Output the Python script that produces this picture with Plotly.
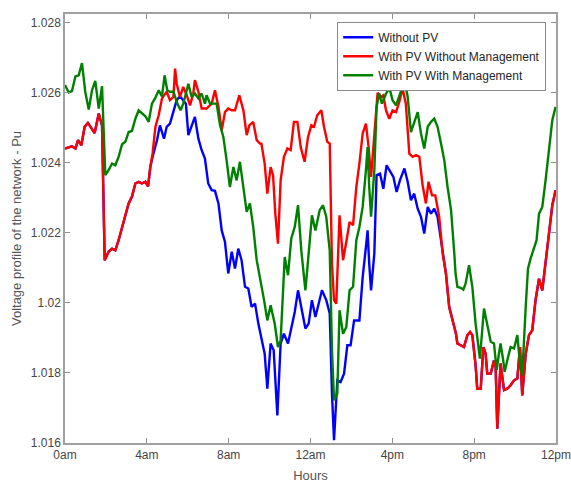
import plotly.graph_objects as go

# ---------------- data ----------------
x_tick_vals = [0, 4, 8, 12, 16, 20, 24]
x_tick_text = ["0am", "4am", "8am", "12am", "4pm", "8pm", "12pm"]
y_tick_vals = [1.016, 1.018, 1.020, 1.022, 1.024, 1.026, 1.028]
y_tick_text = ["1.016", "1.018", "1.02", "1.022", "1.024", "1.026", "1.028"]

hours_red = [0.00, 0.18, 0.34, 0.51, 0.64, 0.80, 0.96, 1.12, 1.29, 1.45, 1.65, 1.81, 1.94,
             2.13, 2.30, 2.46, 2.62, 2.79, 2.95, 3.11, 3.27, 3.44, 3.60, 3.76, 3.93, 4.06,
             4.17, 4.28, 4.42, 4.58, 4.74, 4.97, 5.13, 5.30, 5.38, 5.46, 5.62, 5.78, 5.95,
             6.11, 6.27, 6.35, 6.52, 6.68, 6.92, 7.17, 7.33, 7.50, 7.66, 7.82, 7.98, 8.15,
             8.31, 8.52, 8.72, 8.88, 9.01, 9.20, 9.37, 9.53, 9.60, 9.76, 9.89, 10.05, 10.17,
             10.28, 10.41, 10.54, 10.70, 10.87, 11.03, 11.19, 11.36, 11.52, 11.71, 11.88,
             12.04, 12.17, 12.33, 12.53, 12.66, 12.82, 12.94, 13.05, 13.15, 13.26, 13.42,
             13.59, 13.75, 13.91, 14.08, 14.24, 14.39, 14.55, 14.71, 14.84, 14.96, 15.12,
             15.28, 15.44, 15.56, 15.69, 15.85, 16.01, 16.18, 16.34, 16.50, 16.66, 16.83,
             16.99, 17.16, 17.32, 17.48, 17.64, 17.77, 17.94, 18.10, 18.29, 18.46, 18.62,
             18.78, 18.95, 19.11, 19.18, 19.34, 19.50, 19.67, 19.80, 19.91, 20.07, 20.15,
             20.32, 20.45, 20.56, 20.64, 20.81, 20.97, 21.05, 21.13, 21.29, 21.46, 21.62,
             21.78, 21.95, 22.11, 22.24, 22.35, 22.52, 22.68, 22.84, 23.00, 23.17, 23.33,
             23.49, 23.66, 23.82, 23.98]
volt_red = [1.02441, 1.02444, 1.02447, 1.02441, 1.02465, 1.02450, 1.02503, 1.02514, 1.02498,
            1.02485, 1.02541, 1.02507, 1.02122, 1.02146, 1.02155, 1.02150, 1.02179, 1.02217,
            1.02250, 1.02284, 1.02303, 1.02341, 1.02346, 1.02341, 1.02346, 1.02333, 1.02388,
            1.02426, 1.02503, 1.02536, 1.02584, 1.02603, 1.02579, 1.02588, 1.02669, 1.02626,
            1.02588, 1.02617, 1.02593, 1.02564, 1.02598, 1.02636, 1.02603, 1.02555, 1.02555,
            1.02569, 1.02607, 1.02560, 1.02493, 1.02545, 1.02555, 1.02550, 1.02550, 1.02593,
            1.02550, 1.02479, 1.02507, 1.02517, 1.02465, 1.02455, 1.02455, 1.02398, 1.02312,
            1.02388, 1.02365, 1.02255, 1.02169, 1.02350, 1.02417, 1.02441, 1.02436, 1.02517,
            1.02517, 1.02445, 1.02403, 1.02474, 1.02507, 1.02503, 1.02536, 1.02550, 1.02503,
            1.02460, 1.02455, 1.02112, 1.02008, 1.01998, 1.02250, 1.02122, 1.02174, 1.02231,
            1.02222, 1.02331, 1.02398, 1.02484, 1.02512, 1.02445, 1.02360, 1.02474, 1.02600,
            1.02588, 1.02593, 1.02550, 1.02526, 1.02550, 1.02545, 1.02574, 1.02612, 1.02569,
            1.02426, 1.02417, 1.02422, 1.02417, 1.02336, 1.02284, 1.02346, 1.02307, 1.02307,
            1.02246, 1.02141, 1.02084, 1.01988, 1.01950, 1.01912, 1.01884, 1.01879, 1.01874,
            1.01908, 1.01917, 1.01908, 1.01822, 1.01755, 1.01755, 1.01874, 1.01855, 1.01798,
            1.01798, 1.01836, 1.01817, 1.01641, 1.01827, 1.01751, 1.01755, 1.01765, 1.01779,
            1.01784, 1.01874, 1.01736, 1.01855, 1.01908, 1.01922, 1.02008, 1.02069, 1.02036,
            1.02112, 1.02198, 1.02279, 1.02322]

hours_green = [0.00, 0.18, 0.34, 0.51, 0.67, 0.83, 0.99, 1.16, 1.32, 1.48, 1.65, 1.81, 1.97,
               2.13, 2.30, 2.46, 2.62, 2.79, 2.95, 3.11, 3.27, 3.44, 3.60, 3.76, 3.93, 4.09,
               4.25, 4.42, 4.58, 4.74, 4.87, 5.00, 5.13, 5.30, 5.49, 5.65, 5.78, 5.91, 6.03,
               6.19, 6.35, 6.52, 6.68, 6.84, 6.92, 7.09, 7.41, 7.58, 7.74, 7.90, 8.06, 8.23,
               8.39, 8.55, 8.72, 8.88, 9.04, 9.20, 9.37, 9.53, 9.60, 9.73, 9.89, 10.05, 10.25,
               10.41, 10.54, 10.74, 10.90, 11.06, 11.23, 11.39, 11.55, 11.75, 11.91, 12.07,
               12.24, 12.45, 12.61, 12.77, 12.94, 13.05, 13.15, 13.31, 13.42, 13.59, 13.75,
               13.91, 14.08, 14.24, 14.39, 14.55, 14.71, 14.79, 14.87, 14.96, 15.12, 15.23,
               15.36, 15.49, 15.66, 15.77, 15.89, 16.01, 16.18, 16.34, 16.50, 16.63, 16.75,
               16.91, 17.07, 17.24, 17.40, 17.56, 17.73, 17.89, 18.05, 18.21, 18.38, 18.54,
               18.70, 18.87, 19.03, 19.09, 19.18, 19.34, 19.47, 19.58, 19.75, 19.91, 20.07,
               20.28, 20.48, 20.64, 20.81, 20.97, 21.10, 21.21, 21.29, 21.42, 21.49, 21.62,
               21.78, 21.95, 22.11, 22.24, 22.35, 22.52, 22.63, 22.76, 22.92, 23.05, 23.17,
               23.33, 23.49, 23.66, 23.82, 23.98]
volt_green = [1.02622, 1.02601, 1.02605, 1.02647, 1.02650, 1.02685, 1.02603, 1.02552, 1.02607,
              1.02634, 1.02555, 1.02619, 1.02365, 1.02379, 1.02398, 1.02393, 1.02417, 1.02453,
              1.02460, 1.02488, 1.02491, 1.02526, 1.02550, 1.02541, 1.02533, 1.02517, 1.02569,
              1.02586, 1.02607, 1.02590, 1.02650, 1.02607, 1.02603, 1.02603, 1.02569, 1.02550,
              1.02569, 1.02598, 1.02626, 1.02588, 1.02598, 1.02584, 1.02598, 1.02569, 1.02593,
              1.02569, 1.02569, 1.02507, 1.02474, 1.02407, 1.02331, 1.02388, 1.02350, 1.02403,
              1.02322, 1.02260, 1.02284, 1.02217, 1.02122, 1.02074, 1.02046, 1.02008, 1.01950,
              1.01993, 1.01941, 1.01874, 1.01893, 1.02131, 1.02079, 1.02184, 1.02217, 1.02279,
              1.02150, 1.02036, 1.02141, 1.02250, 1.02207, 1.02265, 1.02279, 1.02246, 1.02150,
              1.01865, 1.01722, 1.01741, 1.01979, 1.01912, 1.01931, 1.02036, 1.02046, 1.02179,
              1.02217, 1.02274, 1.02379, 1.02445, 1.02331, 1.02246, 1.02379, 1.02560, 1.02598,
              1.02569, 1.02593, 1.02607, 1.02607, 1.02579, 1.02564, 1.02593, 1.02617, 1.02626,
              1.02588, 1.02488, 1.02517, 1.02545, 1.02484, 1.02441, 1.02503, 1.02517, 1.02526,
              1.02503, 1.02455, 1.02407, 1.02331, 1.02265, 1.02141, 1.02084, 1.02046, 1.02043,
              1.02038, 1.02055, 1.02108, 1.02046, 1.01941, 1.01841, 1.01984, 1.01941, 1.01889,
              1.01884, 1.01808, 1.01855, 1.01884, 1.01836, 1.01803, 1.01836, 1.01874, 1.01870,
              1.01908, 1.01827, 1.01793, 1.01989, 1.02098, 1.02127, 1.02155, 1.02179, 1.02255,
              1.02274, 1.02350, 1.02436, 1.02522, 1.02560]

# "Without PV" differs from the red curve only during daylight hours
hours_blue_day = [4.28, 4.50, 4.64, 4.84, 4.97, 5.13, 5.30, 5.46, 5.62, 5.78, 5.91, 6.03, 6.19,
                  6.35, 6.52, 6.68, 6.84, 7.00, 7.17, 7.33, 7.50, 7.66, 7.82, 7.98, 8.15, 8.31,
                  8.47, 8.63, 8.80, 8.96, 9.12, 9.29, 9.45, 9.60, 9.76, 9.89, 10.05, 10.20,
                  10.38, 10.54, 10.70, 10.90, 11.06, 11.23, 11.39, 11.55, 11.75, 11.91, 12.07,
                  12.24, 12.40, 12.56, 12.77, 12.94, 13.05, 13.15, 13.31, 13.47, 13.64, 13.80,
                  13.96, 14.13, 14.39, 14.55, 14.71, 14.79, 14.87, 14.96, 15.12, 15.23, 15.40,
                  15.56, 15.72, 15.89, 16.05, 16.21, 16.37, 16.59, 16.75, 16.91, 17.07, 17.24,
                  17.40, 17.56, 17.73, 17.89, 18.05, 18.21, 18.38]
volt_blue_day = [1.02417, 1.02465, 1.02507, 1.02469, 1.02503, 1.02512, 1.02545, 1.02579,
                 1.02590, 1.02579, 1.02569, 1.02479, 1.02503, 1.02531, 1.02469, 1.02436,
                 1.02412, 1.02341, 1.02322, 1.02320, 1.02284, 1.02207, 1.02174, 1.02084,
                 1.02146, 1.02098, 1.02155, 1.02122, 1.02046, 1.02041, 1.01989, 1.01998,
                 1.01941, 1.01903, 1.01855, 1.01755, 1.01884, 1.01865, 1.01679, 1.01884,
                 1.01912, 1.01884, 1.01931, 1.01974, 1.02036, 1.01988, 1.01927, 1.01941,
                 1.02008, 1.01960, 1.01998, 1.02036, 1.02008, 1.01970, 1.01741, 1.01608,
                 1.01779, 1.01774, 1.01798, 1.01879, 1.01879, 1.01950, 1.01950, 1.02074,
                 1.02160, 1.02207, 1.02112, 1.02036, 1.02141, 1.02365, 1.02369, 1.02326,
                 1.02393, 1.02374, 1.02360, 1.02317, 1.02350, 1.02384, 1.02346, 1.02293,
                 1.02312, 1.02269, 1.02246, 1.02198, 1.02274, 1.02255, 1.02269, 1.02246,
                 1.02174]

# full blue series: night values are shared with the red series
am = [i for i, h in enumerate(hours_red) if h < hours_blue_day[0]]
pm = [i for i, h in enumerate(hours_red) if h > hours_blue_day[-1]]
hours_blue = [hours_red[i] for i in am] + hours_blue_day + [hours_red[i] for i in pm]
volt_blue = [volt_red[i] for i in am] + volt_blue_day + [volt_red[i] for i in pm]

series = [
    ("Without PV", hours_blue, volt_blue, "#0000ff"),
    ("With PV Without Management", hours_red, volt_red, "#ff0000"),
    ("With PV With Management", hours_green, volt_green, "#008000"),
]

# ---------------- figure ----------------
FONT = "Liberation Sans, Arial, sans-serif"
fig = go.Figure()
for name, xs, ys, col in series:
    fig.add_trace(go.Scatter(x=xs, y=ys, mode="lines", name=name,
                             line=dict(color=col, width=2.4)))

axis_common = dict(
    showgrid=False, zeroline=False, showline=True, linecolor="#a0a0a0", linewidth=1.5,
    mirror="ticks", ticks="inside", ticklen=5, tickwidth=1, tickcolor="#909090",
    tickfont=dict(family=FONT, size=12, color="#454545"),
    ticklabeloverflow="allow", automargin=False,
)
fig.update_layout(
    width=571, height=484,
    margin=dict(l=65, r=15, t=14, b=41),
    paper_bgcolor="white", plot_bgcolor="white",
    font=dict(family=FONT),
    xaxis=dict(range=[0, 24], tickvals=x_tick_vals, ticktext=x_tick_text,
               title=dict(text="Hours", font=dict(family=FONT, size=13, color="#555555"),
                          standoff=10),
               **axis_common),
    yaxis=dict(range=[1.016, 1.02825], tickvals=y_tick_vals, ticktext=y_tick_text,
               title=dict(text="Voltage profile of the network - Pu",
                          font=dict(family=FONT, size=13, color="#555555"), standoff=6),
               **axis_common),
    legend=dict(x=0.98, xanchor="right", y=0.982, yanchor="top",
                bgcolor="white", bordercolor="#8a8a8a", borderwidth=1,
                font=dict(family=FONT, size=12, color="#262626"),
                itemwidth=30, tracegroupgap=0),
    showlegend=True,
)

fig.write_html("out.html")
